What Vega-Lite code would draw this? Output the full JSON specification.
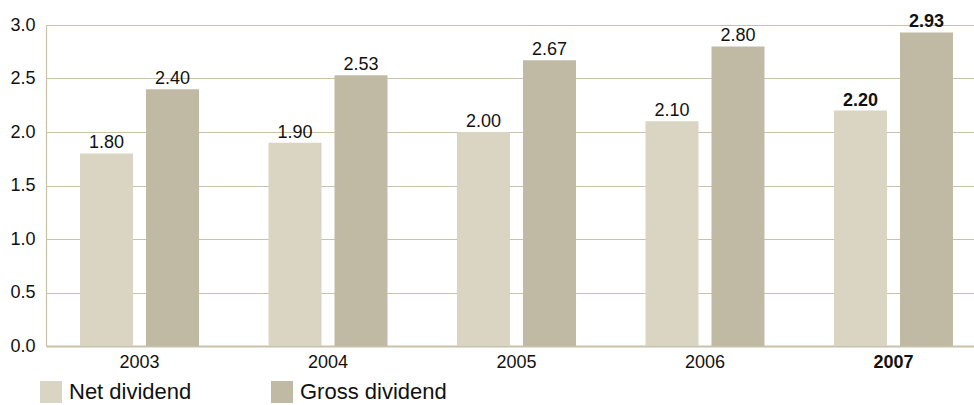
{
  "$schema": "https://vega.github.io/schema/vega-lite/v6.json",
  "width": 928,
  "height": 321,
  "autosize": "none",
  "padding": {"left": 46, "top": 25, "right": 0, "bottom": 59},
  "background": "white",
  "config": {"view": {"stroke": null}, "font": "Liberation Sans"},
  "data": {
    "values": [
      {"year": "2003", "type": "Net dividend", "value": 1.80},
      {"year": "2003", "type": "Gross dividend", "value": 2.40},
      {"year": "2004", "type": "Net dividend", "value": 1.90},
      {"year": "2004", "type": "Gross dividend", "value": 2.53},
      {"year": "2005", "type": "Net dividend", "value": 2.00},
      {"year": "2005", "type": "Gross dividend", "value": 2.67},
      {"year": "2006", "type": "Net dividend", "value": 2.10},
      {"year": "2006", "type": "Gross dividend", "value": 2.80},
      {"year": "2007", "type": "Net dividend", "value": 2.20},
      {"year": "2007", "type": "Gross dividend", "value": 2.93}
    ]
  },
  "encoding": {
    "x": {
      "field": "year",
      "type": "nominal",
      "scale": {"paddingInner": 0.3687, "paddingOuter": 0.146, "align": 0.618},
      "axis": {
        "title": null,
        "labelAngle": 0,
        "ticks": false,
        "domainColor": "#c8c2ab",
        "domainWidth": 2,
        "labelPadding": 7,
        "labelFontSize": 18,
        "labelColor": "#111111",
        "labelFontWeight": {"condition": {"test": "datum.value == '2007'", "value": "bold"}, "value": "normal"}
      }
    },
    "xOffset": {
      "field": "type",
      "type": "nominal",
      "sort": ["Net dividend", "Gross dividend"],
      "scale": {"paddingInner": 0.197, "paddingOuter": 0}
    },
    "y": {
      "field": "value",
      "type": "quantitative",
      "scale": {"domain": [0, 3], "nice": false},
      "axis": {
        "title": null,
        "values": [0, 0.5, 1, 1.5, 2, 2.5, 3],
        "format": ".1f",
        "ticks": false,
        "grid": true,
        "gridColor": "#c8c2ab",
        "gridWidth": 1.2,
        "domainColor": "#c8c2ab",
        "domainWidth": 1.2,
        "labelPadding": 11,
        "labelFontSize": 18,
        "labelColor": "#111111"
      }
    }
  },
  "layer": [
    {
      "mark": {"type": "bar"},
      "encoding": {
        "color": {
          "field": "type",
          "type": "nominal",
          "sort": ["Net dividend", "Gross dividend"],
          "scale": {"domain": ["Net dividend", "Gross dividend"], "range": ["#dad4c3", "#c0b9a3"]},
          "legend": {
            "title": null,
            "orient": "none",
            "legendX": -6,
            "legendY": 356,
            "direction": "horizontal",
            "symbolType": "square",
            "symbolSize": 484,
            "symbolStrokeWidth": 0,
            "labelFontSize": 22,
            "labelColor": "#111111",
            "labelOffset": 7,
            "columnPadding": 79
          }
        }
      }
    },
    {
      "transform": [{"filter": "datum.year != '2007'"}],
      "mark": {"type": "text", "baseline": "alphabetic", "dy": -5, "fontSize": 18, "color": "#111111"},
      "encoding": {
        "text": {"field": "value", "type": "quantitative", "format": ".2f"}
      }
    },
    {
      "transform": [{"filter": "datum.year == '2007'"}],
      "mark": {"type": "text", "baseline": "alphabetic", "dy": -5, "fontSize": 18, "fontWeight": "bold", "color": "#111111"},
      "encoding": {
        "text": {"field": "value", "type": "quantitative", "format": ".2f"}
      }
    }
  ]
}
